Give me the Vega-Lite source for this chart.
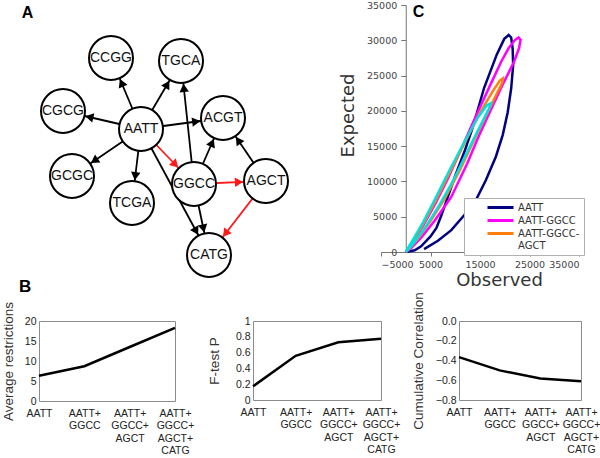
{
  "$schema": "https://vega.github.io/schema/vega-lite/v6.json",
  "background": "white",
  "padding": 0,
  "config": {"view": {"stroke": null}, "font": "Liberation Sans"},
  "datasets": {
    "nodes": [
      {"id": "CCGG", "x": 110, "y": 58},
      {"id": "TGCA", "x": 180, "y": 61},
      {"id": "CGCG", "x": 62, "y": 111},
      {"id": "AATT", "x": 140, "y": 129},
      {"id": "ACGT", "x": 222, "y": 118},
      {"id": "GCGC", "x": 71, "y": 176},
      {"id": "TCGA", "x": 131, "y": 203},
      {"id": "GGCC", "x": 193, "y": 184},
      {"id": "AGCT", "x": 265, "y": 181},
      {"id": "CATG", "x": 208, "y": 255}
    ],
    "edges": [
      {"s": "AATT", "t": "CCGG", "hl": 0},
      {"s": "AATT", "t": "TGCA", "hl": 0},
      {"s": "AATT", "t": "CGCG", "hl": 0},
      {"s": "AATT", "t": "ACGT", "hl": 0},
      {"s": "AATT", "t": "GCGC", "hl": 0},
      {"s": "AATT", "t": "TCGA", "hl": 0},
      {"s": "AATT", "t": "CATG", "hl": 0},
      {"s": "GGCC", "t": "TGCA", "hl": 0},
      {"s": "GGCC", "t": "ACGT", "hl": 0},
      {"s": "GGCC", "t": "CATG", "hl": 0},
      {"s": "AGCT", "t": "ACGT", "hl": 0},
      {"s": "AATT", "t": "GGCC", "hl": 1},
      {"s": "GGCC", "t": "AGCT", "hl": 1},
      {"s": "AGCT", "t": "CATG", "hl": 1}
    ],
    "curves": [
      {"s": "AATT", "i": 0, "o": 0, "e": 0},
      {"s": "AATT", "i": 1, "o": 1800, "e": 250},
      {"s": "AATT", "i": 2, "o": 3100, "e": 800},
      {"s": "AATT", "i": 3, "o": 5000, "e": 2200},
      {"s": "AATT", "i": 4, "o": 6200, "e": 3400},
      {"s": "AATT", "i": 5, "o": 7200, "e": 5200},
      {"s": "AATT", "i": 6, "o": 8500, "e": 7800},
      {"s": "AATT", "i": 7, "o": 10000, "e": 10800},
      {"s": "AATT", "i": 8, "o": 12000, "e": 14500},
      {"s": "AATT", "i": 9, "o": 13600, "e": 17800},
      {"s": "AATT", "i": 10, "o": 15800, "e": 23200},
      {"s": "AATT", "i": 11, "o": 18400, "e": 28000},
      {"s": "AATT", "i": 12, "o": 19900, "e": 30200},
      {"s": "AATT", "i": 13, "o": 20800, "e": 30750},
      {"s": "AATT", "i": 14, "o": 21300, "e": 30400},
      {"s": "AATT", "i": 15, "o": 21600, "e": 28800},
      {"s": "AATT", "i": 16, "o": 21700, "e": 26500},
      {"s": "AATT", "i": 17, "o": 21300, "e": 23200},
      {"s": "AATT", "i": 18, "o": 20600, "e": 19800},
      {"s": "AATT", "i": 19, "o": 19600, "e": 16600},
      {"s": "AATT", "i": 20, "o": 18200, "e": 13500},
      {"s": "AATT", "i": 21, "o": 16200, "e": 10200},
      {"s": "AATT", "i": 22, "o": 14200, "e": 7400},
      {"s": "AATT", "i": 23, "o": 11800, "e": 5200},
      {"s": "AATT", "i": 24, "o": 9200, "e": 3100},
      {"s": "AATT", "i": 25, "o": 6500, "e": 1600},
      {"s": "AATT", "i": 26, "o": 3700, "e": 400},
      {"s": "AATT-GGCC", "i": 0, "o": 0, "e": 0},
      {"s": "AATT-GGCC", "i": 1, "o": 1500, "e": 1500},
      {"s": "AATT-GGCC", "i": 2, "o": 3500, "e": 3700},
      {"s": "AATT-GGCC", "i": 3, "o": 6000, "e": 6900},
      {"s": "AATT-GGCC", "i": 4, "o": 8500, "e": 10400},
      {"s": "AATT-GGCC", "i": 5, "o": 11200, "e": 14600},
      {"s": "AATT-GGCC", "i": 6, "o": 14000, "e": 19000},
      {"s": "AATT-GGCC", "i": 7, "o": 16900, "e": 23400},
      {"s": "AATT-GGCC", "i": 8, "o": 19300, "e": 27000},
      {"s": "AATT-GGCC", "i": 9, "o": 20800, "e": 28900},
      {"s": "AATT-GGCC", "i": 10, "o": 22000, "e": 30000},
      {"s": "AATT-GGCC", "i": 11, "o": 22800, "e": 30400},
      {"s": "AATT-GGCC", "i": 12, "o": 23200, "e": 30100},
      {"s": "AATT-GGCC", "i": 13, "o": 22900, "e": 28900},
      {"s": "AATT-GGCC", "i": 14, "o": 21900, "e": 27000},
      {"s": "AATT-GGCC", "i": 15, "o": 19300, "e": 23300},
      {"s": "AATT-GGCC", "i": 16, "o": 16900, "e": 19700},
      {"s": "AATT-GGCC", "i": 17, "o": 14600, "e": 16200},
      {"s": "AATT-GGCC", "i": 18, "o": 12400, "e": 12500},
      {"s": "AATT-GGCC", "i": 19, "o": 9200, "e": 7800},
      {"s": "AATT-GGCC", "i": 20, "o": 5900, "e": 4500},
      {"s": "AATT-GGCC", "i": 21, "o": 3200, "e": 2100},
      {"s": "AATT-GGCC", "i": 22, "o": 1000, "e": 500},
      {"s": "AATT-GGCC", "i": 23, "o": 0, "e": 0},
      {"s": "AATT-GGCC-AGCT", "i": 0, "o": 0, "e": 0},
      {"s": "AATT-GGCC-AGCT", "i": 1, "o": 1500, "e": 1600},
      {"s": "AATT-GGCC-AGCT", "i": 2, "o": 3500, "e": 3900},
      {"s": "AATT-GGCC-AGCT", "i": 3, "o": 6000, "e": 7200},
      {"s": "AATT-GGCC-AGCT", "i": 4, "o": 9000, "e": 11400},
      {"s": "AATT-GGCC-AGCT", "i": 5, "o": 12000, "e": 15600},
      {"s": "AATT-GGCC-AGCT", "i": 6, "o": 15000, "e": 19700},
      {"s": "AATT-GGCC-AGCT", "i": 7, "o": 17500, "e": 22700},
      {"s": "AATT-GGCC-AGCT", "i": 8, "o": 19000, "e": 24300},
      {"s": "AATT-GGCC-AGCT", "i": 9, "o": 19600, "e": 24600},
      {"s": "AATT-GGCC-AGCT", "i": 10, "o": 19500, "e": 24000},
      {"s": "AATT-GGCC-AGCT", "i": 11, "o": 18500, "e": 22600},
      {"s": "AATT-GGCC-AGCT", "i": 12, "o": 16000, "e": 19000},
      {"s": "AATT-GGCC-AGCT", "i": 13, "o": 13500, "e": 15400},
      {"s": "AATT-GGCC-AGCT", "i": 14, "o": 11000, "e": 11700},
      {"s": "AATT-GGCC-AGCT", "i": 15, "o": 8000, "e": 7700},
      {"s": "AATT-GGCC-AGCT", "i": 16, "o": 5000, "e": 4400},
      {"s": "AATT-GGCC-AGCT", "i": 17, "o": 2500, "e": 1900},
      {"s": "AATT-GGCC-AGCT", "i": 18, "o": 800, "e": 500},
      {"s": "AATT-GGCC-AGCT", "i": 19, "o": 0, "e": 0},
      {"s": "AATT-GGCC-AGCT-CATG", "i": 0, "o": 0, "e": 0},
      {"s": "AATT-GGCC-AGCT-CATG", "i": 1, "o": 1500, "e": 1800},
      {"s": "AATT-GGCC-AGCT-CATG", "i": 2, "o": 3500, "e": 4200},
      {"s": "AATT-GGCC-AGCT-CATG", "i": 3, "o": 6000, "e": 7600},
      {"s": "AATT-GGCC-AGCT-CATG", "i": 4, "o": 9000, "e": 11800},
      {"s": "AATT-GGCC-AGCT-CATG", "i": 5, "o": 12000, "e": 15800},
      {"s": "AATT-GGCC-AGCT-CATG", "i": 6, "o": 14500, "e": 19000},
      {"s": "AATT-GGCC-AGCT-CATG", "i": 7, "o": 16400, "e": 20800},
      {"s": "AATT-GGCC-AGCT-CATG", "i": 8, "o": 17200, "e": 21100},
      {"s": "AATT-GGCC-AGCT-CATG", "i": 9, "o": 16800, "e": 20300},
      {"s": "AATT-GGCC-AGCT-CATG", "i": 10, "o": 15000, "e": 17800},
      {"s": "AATT-GGCC-AGCT-CATG", "i": 11, "o": 12500, "e": 14300},
      {"s": "AATT-GGCC-AGCT-CATG", "i": 12, "o": 9500, "e": 10000},
      {"s": "AATT-GGCC-AGCT-CATG", "i": 13, "o": 6500, "e": 6300},
      {"s": "AATT-GGCC-AGCT-CATG", "i": 14, "o": 3500, "e": 3000},
      {"s": "AATT-GGCC-AGCT-CATG", "i": 15, "o": 1200, "e": 900},
      {"s": "AATT-GGCC-AGCT-CATG", "i": 16, "o": 0, "e": 0}
    ]
  },
  "vconcat": [
    {
      "hconcat": [
        {
          "width": 264,
          "height": 280,
          "view": {"stroke": null},
          "layer": [
            {
              "data": {"name": "edges"},
              "transform": [
                {"lookup": "s", "from": {"data": {"name": "nodes"}, "key": "id", "fields": ["x", "y"]}, "as": ["sx", "sy"]},
                {"lookup": "t", "from": {"data": {"name": "nodes"}, "key": "id", "fields": ["x", "y"]}, "as": ["tx", "ty"]}
              ],
              "mark": {"type": "rule", "strokeWidth": 1.8},
              "encoding": {
                "x": {"field": "sx", "type": "quantitative", "scale": {"domain": [38, 302], "nice": false, "zero": false}, "axis": null},
                "y": {"field": "sy", "type": "quantitative", "scale": {"domain": [5, 285], "nice": false, "zero": false, "reverse": true}, "axis": null},
                "x2": {"field": "tx"},
                "y2": {"field": "ty"},
                "color": {"field": "hl", "type": "nominal", "scale": {"domain": [0, 1], "range": ["#000000", "#ff1a1a"]}, "legend": null}
              }
            },
            {
              "data": {"name": "nodes"},
              "mark": {"type": "point", "shape": "circle", "size": 1936, "filled": true, "fill": "white", "stroke": "black", "strokeWidth": 2, "opacity": 1},
              "encoding": {
                "x": {"field": "x", "type": "quantitative", "scale": {"domain": [38, 302], "nice": false, "zero": false}, "axis": null},
                "y": {"field": "y", "type": "quantitative", "scale": {"domain": [5, 285], "nice": false, "zero": false, "reverse": true}, "axis": null}
              }
            },
            {
              "data": {"name": "edges"},
              "transform": [
                {"lookup": "s", "from": {"data": {"name": "nodes"}, "key": "id", "fields": ["x", "y"]}, "as": ["sx", "sy"]},
                {"lookup": "t", "from": {"data": {"name": "nodes"}, "key": "id", "fields": ["x", "y"]}, "as": ["tx", "ty"]},
                {"calculate": "datum.tx - datum.sx", "as": "dx"},
                {"calculate": "datum.ty - datum.sy", "as": "dy"},
                {"calculate": "sqrt(datum.dx * datum.dx + datum.dy * datum.dy)", "as": "len"},
                {"calculate": "datum.tx - 27 * datum.dx / datum.len", "as": "ax"},
                {"calculate": "datum.ty - 27 * datum.dy / datum.len", "as": "ay"},
                {"calculate": "atan2(datum.dx, -datum.dy) * 180 / PI", "as": "ang"}
              ],
              "mark": {"type": "point", "shape": "triangle-up", "size": 90, "filled": true, "opacity": 1},
              "encoding": {
                "x": {"field": "ax", "type": "quantitative", "scale": {"domain": [38, 302], "nice": false, "zero": false}, "axis": null},
                "y": {"field": "ay", "type": "quantitative", "scale": {"domain": [5, 285], "nice": false, "zero": false, "reverse": true}, "axis": null},
                "angle": {"field": "ang", "type": "quantitative", "scale": null},
                "color": {"field": "hl", "type": "nominal", "scale": {"domain": [0, 1], "range": ["#000000", "#ff1a1a"]}, "legend": null}
              }
            },
            {
              "data": {"name": "nodes"},
              "mark": {"type": "text", "font": "Liberation Sans", "fontSize": 14, "color": "#111111"},
              "encoding": {
                "x": {"field": "x", "type": "quantitative", "scale": {"domain": [38, 302], "nice": false, "zero": false}, "axis": null},
                "y": {"field": "y", "type": "quantitative", "scale": {"domain": [5, 285], "nice": false, "zero": false, "reverse": true}, "axis": null},
                "text": {"field": "id"}
              }
            },
            {
              "data": {"values": [{"panel": "A"}]},
              "mark": {"type": "text", "font": "Liberation Sans", "fontSize": 16, "fontWeight": "bold", "color": "black", "align": "center", "baseline": "middle"},
              "encoding": {
                "x": {"datum": 26.5, "type": "quantitative", "scale": {"domain": [38, 302], "nice": false, "zero": false}, "axis": null},
                "y": {"datum": 12.5, "type": "quantitative", "scale": {"domain": [5, 285], "nice": false, "zero": false, "reverse": true}, "axis": null},
                "text": {"field": "panel"}
              }
            },
            {
              "data": {"values": [{"panel": "C"}]},
              "mark": {"type": "text", "font": "Liberation Sans", "fontSize": 16, "fontWeight": "bold", "color": "black", "align": "center", "baseline": "middle"},
              "encoding": {
                "x": {"datum": 417.5, "type": "quantitative", "scale": {"domain": [38, 302], "nice": false, "zero": false}, "axis": null},
                "y": {"datum": 11.5, "type": "quantitative", "scale": {"domain": [5, 285], "nice": false, "zero": false, "reverse": true}, "axis": null},
                "text": {"field": "panel"}
              }
            }
          ]
        },
        {
          "width": 198,
          "height": 247,
          "view": {"stroke": null},
          "data": {"name": "curves"},
          "mark": {"type": "line", "strokeWidth": 2.5},
          "encoding": {
            "x": {"field": "o", "type": "quantitative", "scale": {"domain": [-5000, 35000], "nice": false, "zero": false},
              "axis": {"values": [-5000, 5000, 15000, 25000, 35000], "format": "d", "grid": false, "tickSize": 4, "tickColor": "#777777", "domainColor": "#777777", "labelFont": "DejaVu Sans", "labelFontSize": 9.5, "labelColor": "#444444", "labelPadding": 3,
                "title": "Observed", "titleFont": "DejaVu Sans", "titleFontSize": 18, "titleFontWeight": "normal", "titleColor": "#333333", "titlePadding": 3, "titleX": 118, "titleAlign": "center"}},
            "y": {"field": "e", "type": "quantitative", "scale": {"domain": [0, 35000], "nice": false, "zero": false},
              "axis": {"values": [0, 5000, 10000, 15000, 20000, 25000, 30000, 35000], "format": "d", "offset": -24.75, "grid": false, "tickSize": 5, "tickColor": "#777777", "domainColor": "#777777", "labelFont": "DejaVu Sans", "labelFontSize": 9.5, "labelColor": "#444444", "labelPadding": 4, "labelFlush": false, "labelBound": false, "labelOverlap": false,
                "title": "Expected", "titleFont": "DejaVu Sans", "titleFontSize": 18, "titleFontWeight": "normal", "titleColor": "#333333", "titleX": -57, "titleY": 110, "titleAlign": "center", "titleBaseline": "middle", "titleAngle": -90}},
            "color": {"field": "s", "type": "nominal",
              "scale": {"domain": ["AATT", "AATT-GGCC", "AATT-GGCC-AGCT", "AATT-GGCC-AGCT-CATG"], "range": ["#000080", "#ff00ff", "#ff7f0e", "#00e0e0"]},
              "legend": {"orient": "none", "legendX": 83, "legendY": 193, "values": ["AATT", "AATT-GGCC", "AATT-GGCC-AGCT"], "title": null,
                "fillColor": "white", "strokeColor": "#b0b0b0", "padding": 4, "cornerRadius": 0,
                "symbolType": "M3.5,0L10,0", "symbolSize": 64, "symbolStrokeWidth": 3, "labelOffset": 39,
                "labelFont": "DejaVu Sans", "labelFontSize": 10, "labelColor": "#333333", "rowPadding": 0,
                "labelExpr": "datum.label == 'AATT-GGCC-AGCT' ? ['AATT-GGCC-', 'AGCT'] : datum.label"}},
            "order": {"field": "i", "type": "quantitative"}
          }
        }
      ],
      "spacing": 78,
      "bounds": "flush",
      "resolve": {"scale": {"color": "independent"}, "legend": {"color": "independent"}}
    },
    {
      "hconcat": [
        {
          "width": 136,
          "height": 80,
          "view": {"stroke": "#8c8c8c"},
          "data": {"values": [
            {"k": "AATT", "v": 6.3},
            {"k": "AATT+GGCC", "v": 8.7},
            {"k": "AATT+GGCC+AGCT", "v": 13.5},
            {"k": "AATT+GGCC+AGCT+CATG", "v": 18.3}
          ]},
          "mark": {"type": "line", "color": "black", "strokeWidth": 2.5},
          "encoding": {
            "x": {"field": "k", "type": "ordinal", "sort": null, "scale": {"type": "point", "padding": 0},
              "axis": {"labelAngle": 0, "labelExpr": "split(replace(datum.label, regexp('[+]', 'g'), '+|'), '|')", "ticks": false, "domain": false, "labelPadding": 7, "labelFont": "Liberation Sans", "labelFontSize": 10.5, "labelLineHeight": 12.5, "labelColor": "#222222", "labelAlign": "center", "labelBaseline": "top", "labelOverlap": false, "labelLimit": 0, "title": null}},
            "y": {"field": "v", "type": "quantitative", "scale": {"domain": [0, 20], "nice": false},
              "axis": {"values": [0, 5, 10, 15, 20], "ticks": false, "domain": false, "grid": false, "labelPadding": 3, "labelFont": "Liberation Sans", "labelFontSize": 10.5, "labelColor": "#222222",
                "title": "Average restrictions", "titleFont": "Liberation Sans", "titleFontSize": 13.5, "titleFontWeight": "normal", "titleColor": "#333333", "titlePadding": 9}}
          }
        },
        {
          "width": 128,
          "height": 79,
          "view": {"stroke": "#8c8c8c"},
          "title": {"text": "B", "anchor": "start", "frame": "group", "dx": -234, "offset": 7, "baseline": "alphabetic", "font": "Liberation Sans", "fontSize": 17, "fontWeight": "bold", "color": "black"},
          "data": {"values": [
            {"k": "AATT", "v": 0.173},
            {"k": "AATT+GGCC", "v": 0.56},
            {"k": "AATT+GGCC+AGCT", "v": 0.73},
            {"k": "AATT+GGCC+AGCT+CATG", "v": 0.776}
          ]},
          "mark": {"type": "line", "color": "black", "strokeWidth": 2.5},
          "encoding": {
            "x": {"field": "k", "type": "ordinal", "sort": null, "scale": {"type": "point", "padding": 0},
              "axis": {"labelAngle": 0, "labelExpr": "split(replace(datum.label, regexp('[+]', 'g'), '+|'), '|')", "ticks": false, "domain": false, "labelPadding": 7, "labelFont": "Liberation Sans", "labelFontSize": 10.5, "labelLineHeight": 12.5, "labelColor": "#222222", "labelAlign": "center", "labelBaseline": "top", "labelOverlap": false, "labelLimit": 0, "title": null}},
            "y": {"field": "v", "type": "quantitative", "scale": {"domain": [0, 1], "nice": false},
              "axis": {"values": [0, 0.2, 0.4, 0.6, 0.8, 1], "format": "~g", "ticks": false, "domain": false, "grid": false, "labelPadding": 3, "labelFont": "Liberation Sans", "labelFontSize": 10.5, "labelColor": "#222222",
                "title": "F-test P", "titleFont": "Liberation Sans", "titleFontSize": 13.5, "titleFontWeight": "normal", "titleColor": "#333333", "titlePadding": 14}}
          }
        },
        {
          "width": 122,
          "height": 79,
          "view": {"stroke": "#8c8c8c"},
          "data": {"values": [
            {"k": "AATT", "v": -0.366},
            {"k": "AATT+GGCC", "v": -0.5},
            {"k": "AATT+GGCC+AGCT", "v": -0.583},
            {"k": "AATT+GGCC+AGCT+CATG", "v": -0.61}
          ]},
          "mark": {"type": "line", "color": "black", "strokeWidth": 2.5},
          "encoding": {
            "x": {"field": "k", "type": "ordinal", "sort": null, "scale": {"type": "point", "padding": 0},
              "axis": {"labelAngle": 0, "labelExpr": "split(replace(datum.label, regexp('[+]', 'g'), '+|'), '|')", "ticks": false, "domain": false, "labelPadding": 7, "labelFont": "Liberation Sans", "labelFontSize": 10.5, "labelLineHeight": 12.5, "labelColor": "#222222", "labelAlign": "center", "labelBaseline": "top", "labelOverlap": false, "labelLimit": 0, "title": null}},
            "y": {"field": "v", "type": "quantitative", "scale": {"domain": [-0.8, 0], "nice": false},
              "axis": {"values": [-0.8, -0.6, -0.4, -0.2, 0], "format": ".1f", "ticks": false, "domain": false, "grid": false, "labelPadding": 3, "labelFont": "Liberation Sans", "labelFontSize": 10.5, "labelColor": "#222222",
                "title": "Cumulative Correlation", "titleFont": "Liberation Sans", "titleFontSize": 13.5, "titleFontWeight": "normal", "titleColor": "#333333", "titlePadding": 10}}
          }
        }
      ],
      "spacing": 78,
      "bounds": "flush"
    }
  ],
  "spacing": -13
}
